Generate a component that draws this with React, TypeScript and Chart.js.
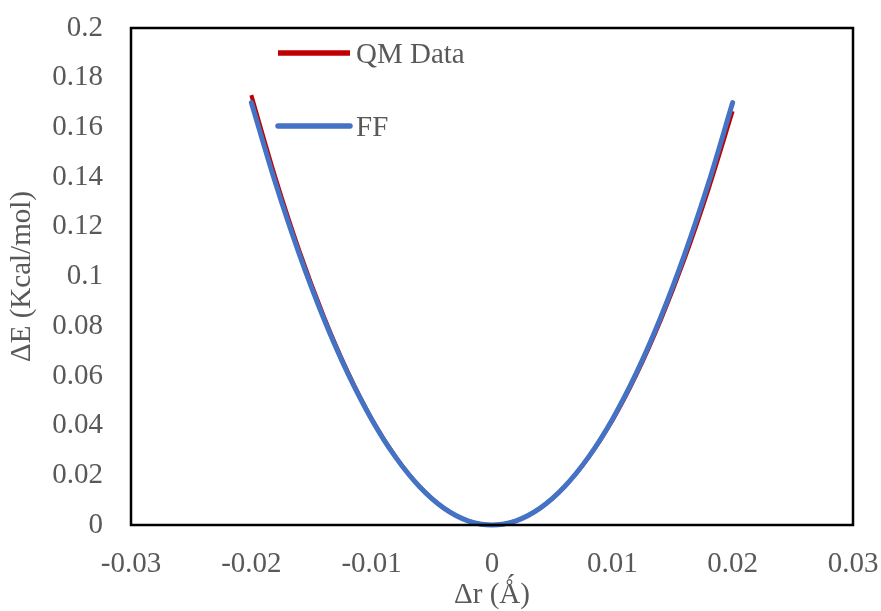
import React, { useEffect, useRef } from "react";
import { Chart, registerables } from "chart.js";

Chart.register(...registerables);

const rValues = [
  -0.02, -0.018, -0.016, -0.014, -0.012, -0.01, -0.008, -0.006, -0.004, -0.002, 0,
  0.002, 0.004, 0.006, 0.008, 0.01, 0.012, 0.014, 0.016, 0.018, 0.02,
];
const qmEnergy = [
  0.173, 0.1399, 0.1103, 0.0843, 0.0618, 0.0428, 0.0274, 0.0154, 0.0068, 0.0017, 0,
  0.0017, 0.0068, 0.0152, 0.027, 0.042, 0.0604, 0.0821, 0.107, 0.1352, 0.1665,
];
const ffEnergy = [
  0.17, 0.1377, 0.1088, 0.0833, 0.0612, 0.0425, 0.0272, 0.0153, 0.0068, 0.0017, 0,
  0.0017, 0.0068, 0.0153, 0.0272, 0.0425, 0.0612, 0.0833, 0.1088, 0.1377, 0.17,
];
const seriesNames = ["QM Data", "FF"];
const seriesColors = ["#C00000", "#4472C4"];
const xTitle = "Δr (Ǻ)";
const yTitle = "ΔE (Kcal/mol)";

const FONT = "'Liberation Serif', 'Times New Roman', serif";
const TEXT_COLOR = "#595959";
const FONT_SIZE = 29;

const framePlugin = {
  id: "frame",
  afterDatasetsDraw(chart: any) {
    const { ctx, chartArea } = chart;
    ctx.save();
    ctx.strokeStyle = "#000000";
    ctx.lineWidth = 2.5;
    ctx.strokeRect(chartArea.left, chartArea.top, chartArea.right - chartArea.left, chartArea.bottom - chartArea.top);
    ctx.restore();
  },
};

const legendPlugin = {
  id: "customLegend",
  afterDraw(chart: any) {
    const { ctx, chartArea } = chart;
    const x0 = chartArea.left + 147;
    const x1 = chartArea.left + 219;
    const rows = [chartArea.top + 25, chartArea.top + 98];
    ctx.save();
    seriesNames.forEach((name, i) => {
      const y = rows[i];
      ctx.strokeStyle = seriesColors[i];
      ctx.lineWidth = 5.5;
      ctx.lineCap = i === 0 ? "butt" : "round";
      ctx.beginPath();
      ctx.moveTo(x0, y);
      ctx.lineTo(x1, y);
      ctx.stroke();
      ctx.fillStyle = TEXT_COLOR;
      ctx.font = `${FONT_SIZE}px ${FONT}`;
      ctx.textBaseline = "middle";
      ctx.textAlign = "left";
      ctx.fillText(name, x1 + 6, y + 2);
    });
    ctx.restore();
  },
};

const fmt = (v: any) => String(Number(Number(v).toFixed(2)));

export default function App() {
  const canvasRef = useRef<HTMLCanvasElement | null>(null);

  useEffect(() => {
    if (!canvasRef.current) return;
    const chart = new Chart(canvasRef.current, {
      type: "line",
      data: {
        datasets: [
          {
            label: seriesNames[0],
            data: rValues.map((r, i) => ({ x: r, y: qmEnergy[i] })),
            borderColor: seriesColors[0],
            backgroundColor: seriesColors[0],
            borderWidth: 4,
            pointRadius: 0,
            cubicInterpolationMode: "monotone",
            clip: false as any,
            order: 1,
          },
          {
            label: seriesNames[1],
            data: rValues.map((r, i) => ({ x: r, y: ffEnergy[i] })),
            borderColor: seriesColors[1],
            backgroundColor: seriesColors[1],
            borderWidth: 5,
            borderCapStyle: "round",
            pointRadius: 0,
            cubicInterpolationMode: "monotone",
            clip: false as any,
            order: 0,
          },
        ],
      },
      options: {
        animation: false,
        responsive: false,
        maintainAspectRatio: false,
        layout: { padding: { left: 0, top: 28, right: 28, bottom: 0 } },
        plugins: { legend: { display: false }, tooltip: { enabled: false } },
        scales: {
          x: {
            type: "linear",
            min: -0.03,
            max: 0.03,
            grid: { display: false },
            border: { display: false },
            ticks: {
              stepSize: 0.01,
              padding: 14,
              color: TEXT_COLOR,
              font: { family: FONT, size: FONT_SIZE },
              callback: fmt,
            },
            title: {
              display: true,
              text: xTitle,
              color: TEXT_COLOR,
              font: { family: FONT, size: FONT_SIZE, lineHeight: 1.05 },
              padding: { top: 0, bottom: 0 },
            },
            afterFit: (scale: any) => {
              scale.height = 86;
              scale.paddingLeft = 0;
              scale.paddingRight = 0;
            },
          },
          y: {
            type: "linear",
            min: 0,
            max: 0.2,
            grid: { display: false },
            border: { display: false },
            ticks: {
              stepSize: 0.02,
              padding: 20,
              color: TEXT_COLOR,
              font: { family: FONT, size: FONT_SIZE },
              callback: fmt,
            },
            title: {
              display: true,
              text: yTitle,
              color: TEXT_COLOR,
              font: { family: FONT, size: FONT_SIZE },
              padding: { top: 5, bottom: 0 },
            },
            afterFit: (scale: any) => {
              scale.width = 131;
              scale.paddingTop = 0;
              scale.paddingBottom = 0;
            },
          },
        },
      },
      plugins: [framePlugin, legendPlugin],
    } as any);
    return () => chart.destroy();
  }, []);

  return (
    <div style={{ position: "fixed", left: 0, top: 0, width: 881, height: 611, background: "#ffffff" }}>
      <canvas ref={canvasRef} width={881} height={611} style={{ width: 881, height: 611, display: "block" }} />
    </div>
  );
}
